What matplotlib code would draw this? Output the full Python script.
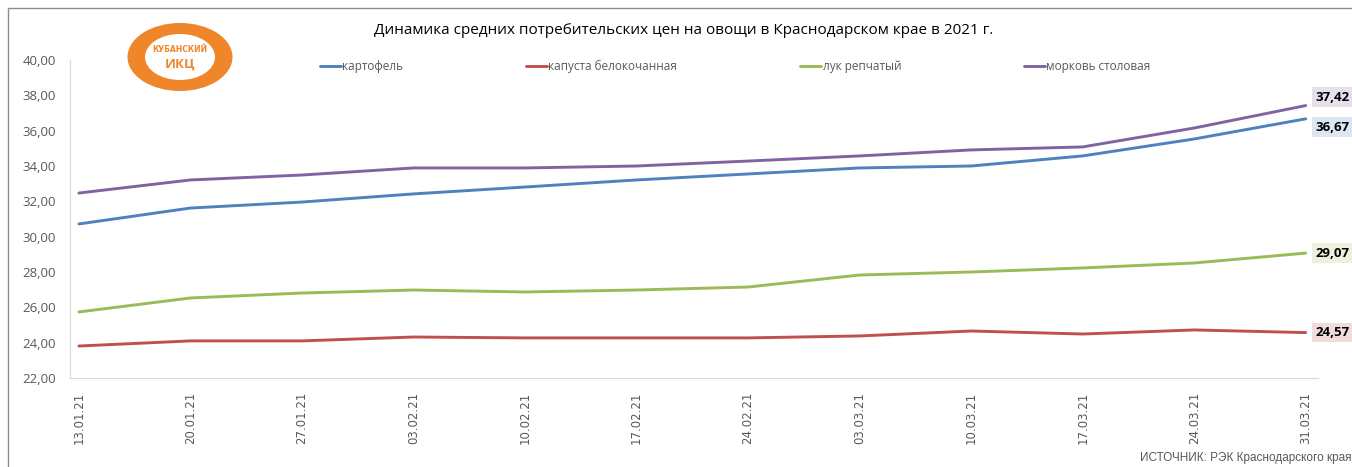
import matplotlib.pyplot as plt
import matplotlib.patches as mpatches

dates = ["13.01.21", "20.01.21", "27.01.21", "03.02.21", "10.02.21", "17.02.21",
         "24.02.21", "03.03.21", "10.03.21", "17.03.21", "24.03.21", "31.03.21"]

potato = [30.72, 31.62, 31.96, 32.42, 32.81, 33.21, 33.55, 33.89, 34.00, 34.57, 35.53, 36.67]
cabbage = [23.81, 24.10, 24.10, 24.32, 24.27, 24.27, 24.27, 24.38, 24.66, 24.49, 24.72, 24.57]
onion = [25.74, 26.53, 26.81, 26.98, 26.87, 26.98, 27.15, 27.83, 28.00, 28.23, 28.51, 29.07]
carrot = [32.47, 33.21, 33.49, 33.89, 33.89, 34.00, 34.28, 34.57, 34.91, 35.08, 36.15, 37.42]

names = ["картофель", "капуста белокочанная", "лук репчатый", "морковь столовая"]
colors = ["#4F81BD", "#C0504D", "#9BBB59", "#8064A2"]
label_bg = ["#DCE6F2", "#F2DCDB", "#EBF1DE", "#E6E0EC"]
label_dy = [-6, 0, 0, 6]

plt.rcParams['font.family'] = ['Open Sans', 'DejaVu Sans']

fig = plt.figure(figsize=(13.52, 4.67), dpi=100)
W, H = 1352, 467

# chart frame
fig.patches.append(mpatches.Rectangle((8 / W, -0.05), 1.2, 1 - 8 / H + 0.05,
                                      transform=fig.transFigure, fill=False,
                                      edgecolor="#8c8c8c", lw=1.0))

ax = fig.add_axes([70 / W, 1 - 378 / H, (1318 - 70) / W, (378 - 60) / H])
x = list(range(len(dates)))
series = [potato, cabbage, onion, carrot]
for vals, name, col in zip(series, names, colors):
    ax.plot(x, vals, color=col, lw=2.1, label=name, solid_capstyle="round")

for vals, bg, dy in zip(series, label_bg, label_dy):
    ax.annotate(f"{vals[-1]:.2f}".replace(".", ","), xy=(x[-1], vals[-1]),
                xytext=(7, dy), textcoords="offset points", va="center", ha="left",
                fontsize=9.5, fontweight="bold", color="black", annotation_clip=False,
                bbox=dict(boxstyle="square,pad=0.25", fc=bg, ec="none"))

ax.set_xlim(-0.08, 11.11)
ax.set_ylim(22, 40)
ax.set_yticks([22 + 2 * i for i in range(10)])
ax.set_yticklabels([f"{22 + 2 * i:.2f}".replace(".", ",") for i in range(10)])
ax.set_xticks(x)
ax.set_xticklabels(dates, rotation=90, family="DejaVu Sans")
ax.tick_params(axis="y", length=0, labelsize=9.5, labelcolor="#595959", pad=10)
ax.tick_params(axis="x", length=0, labelsize=8.5, labelcolor="#595959", pad=10)
for s in ["top", "right"]:
    ax.spines[s].set_visible(False)
ax.spines["left"].set_color("#D9D9D9")
ax.spines["bottom"].set_color("#D9D9D9")

ax.legend(loc="center", bbox_to_anchor=(0.533, 1.0 - 6 / 318),
          ncol=4, frameon=False, fontsize=8.5, labelcolor="#595959",
          handlelength=1.8, handletextpad=0.1, columnspacing=10.4)

fig.text(684 / W, 1 - 30 / H, "Динамика средних потребительских цен на овощи в Краснодарском крае в 2021 г.",
         ha="center", va="center", fontsize=11, color="black")

fig.text(1140 / W, 1 - 458 / H, "ИСТОЧНИК: РЭК Краснодарского края",
         ha="left", va="center", fontsize=8.5, color="#595959",
         family=["Liberation Sans Narrow", "Liberation Sans"])

# logo
lx, ly = 180 / W, 1 - 57 / H
fig.patches.append(mpatches.Ellipse((lx, ly), 105 / W, 68 / H, transform=fig.transFigure,
                                    fc="#F0862A", ec="none"))
fig.patches.append(mpatches.Ellipse((lx, ly), 70 / W, 46 / H, transform=fig.transFigure,
                                    fc="white", ec="none"))
fig.text(lx, ly + 8 / H, "КУБАНСКИЙ", ha="center", va="center", fontsize=5.5,
         fontweight="bold", color="#F0862A", family=["Liberation Sans Narrow", "DejaVu Sans"])
fig.text(lx, ly - 7 / H, "ИКЦ", ha="center", va="center", fontsize=9.5,
         fontweight="bold", color="#F0862A")

fig.savefig("out.png", dpi=100)
